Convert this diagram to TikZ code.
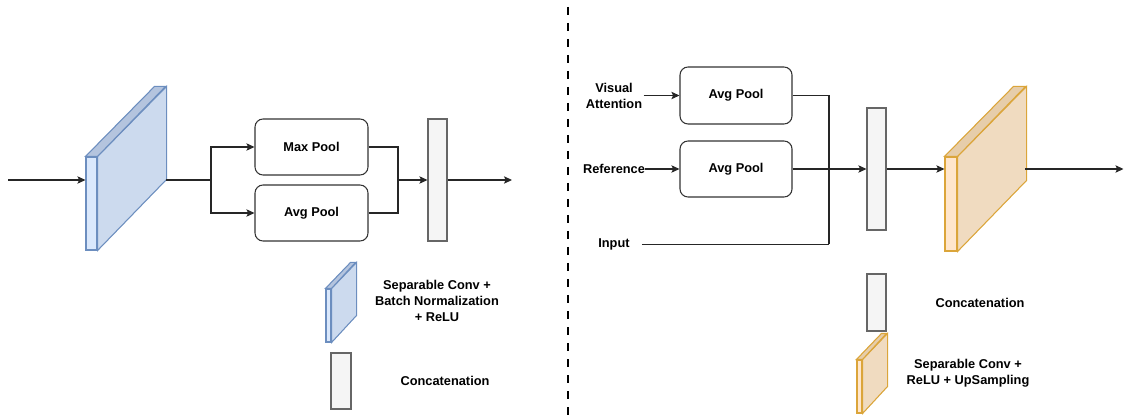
\documentclass[tikz,border=0pt]{standalone}
\usepackage{fontspec}
\setmainfont{Liberation Sans}
\usetikzlibrary{arrows.meta,calc}
\definecolor{bfront}{HTML}{DAE8FC}
\definecolor{bside}{HTML}{CCDAEE}
\definecolor{btop}{HTML}{B4C4DE}
\definecolor{bstroke}{HTML}{6C8EBF}
\definecolor{ofront}{HTML}{FFE6CC}
\definecolor{oside}{HTML}{F0DBC0}
\definecolor{otop}{HTML}{E6CDAA}
\definecolor{ostroke}{HTML}{DBA53A}
\definecolor{catfill}{HTML}{F5F5F5}
\definecolor{catstroke}{HTML}{666666}
\def\u{0.75pt}
\tikzset{
  lbl/.style={font=\fontsize{9.6}{12}\selectfont\bfseries, align=center, inner sep=1pt},
  poolbox/.style={draw=black!80, line width=0.8pt, rounded corners=6pt, fill=white, lbl},
  catbox/.style={draw=catstroke, fill=catfill, line width=0.8pt, inner sep=0pt},
  bluefront/.style={draw=bstroke, fill=bfront, line width=0.8pt, inner sep=0pt},
  orgfront/.style={draw=ostroke, fill=ofront, line width=0.8pt, inner sep=0pt},
  conn/.style={draw=black!85, line width=0.8pt},
  arr/.style={conn, -{Stealth[length=6pt,width=5.5pt,inset=1.2pt]}},
}
\begin{document}
\begin{tikzpicture}[x=0.75pt,y=-0.75pt]
\useasboundingbox (0,0) rectangle (1124,420);

% ---------- left part ----------
\node[bluefront, minimum width=11*\u, minimum height=93*\u] (blk) at (91.5,203.5) {};
\draw[draw=bstroke, fill=bside, line width=0.8pt] (blk.north east) -- ++(69,-70) -- ++(0,93) -- (blk.south east) -- cycle;
\draw[draw=bstroke, fill=btop, line width=0.8pt] (blk.north west) -- ++(69,-70) -- ++(11,0) -- (blk.north east) -- cycle;
\coordinate (inL) at (8,180);
\coordinate (bout) at (166,180);
\coordinate (split) at (211,180);
\node[poolbox, minimum width=113*\u, minimum height=56*\u] (mp) at (311.5,147) {Max Pool};
\node[poolbox, minimum width=113*\u, minimum height=56*\u] (ap) at (311.5,213) {Avg Pool};
\node[catbox, minimum width=19*\u, minimum height=122*\u] (catL) at (437.5,180) {};
\coordinate (join) at (398,180);
\coordinate (outL) at (512,180);

\draw[arr] (inL) -- (inL -| blk.west);
\draw[conn] (bout) -- (split);
\draw[arr] (split) |- (mp.west);
\draw[arr] (split) |- (ap.west);
\draw[conn] (mp.east) -| (join);
\draw[conn] (ap.east) -| (join);
\draw[arr] (join) -- (catL.west);
\draw[arr] (catL.east) -- (outL);

% legend left
\node[bluefront, minimum width=5*\u, minimum height=53*\u] (lgb) at (328.5,315.5) {};
\draw[draw=bstroke, fill=bside, line width=0.8pt] (lgb.north east) -- ++(25,-26) -- ++(0,53) -- (lgb.south east) -- cycle;
\draw[draw=bstroke, fill=btop, line width=0.8pt] (lgb.north west) -- ++(25,-26) -- ++(5,0) -- (lgb.north east) -- cycle;
\node[lbl] (lgbt) at (437,301) {Separable Conv +\\Batch Normalization\\+ ReLU};
\node[catbox, minimum width=20*\u, minimum height=56*\u] (lgc) at (341,381) {};
\node[lbl] (lgct) at (445,381) {Concatenation};

% ---------- separator ----------
\coordinate (sepT) at (568,0);
\coordinate (sepB) at (568,420);
\draw[line width=2pt, dash pattern=on 6pt off 6pt, dash phase=6.75pt] (sepT) -- (sepB);

% ---------- right part ----------
\node[lbl] (va) at (614,96) {Visual\\Attention};
\node[lbl] (ref) at (614,169) {Reference};
\node[lbl] (inp) at (614,244.5) {Input};
\node[poolbox, minimum width=112*\u, minimum height=57*\u] (r1) at (736,95.5) {Avg Pool};
\node[poolbox, minimum width=112*\u, minimum height=56*\u] (r2) at (736,169) {Avg Pool};
\coordinate (jn) at (829,244.5);
\node[catbox, minimum width=19*\u, minimum height=122*\u] (catR) at (876.5,169) {};
\node[orgfront, minimum width=12*\u, minimum height=94*\u] (ob) at (951,204) {};
\draw[draw=ostroke, fill=oside, line width=0.8pt] (ob.north east) -- ++(69,-70) -- ++(0,94) -- (ob.south east) -- cycle;
\draw[draw=ostroke, fill=otop, line width=0.8pt] (ob.north west) -- ++(69,-70) -- ++(12,0) -- (ob.north east) -- cycle;
\coordinate (oout) at (1025,169);
\coordinate (outR) at (1123.5,169);

\draw[arr] (va.east |- r1.west) -- (r1.west);
\draw[arr] (ref.east |- r2.west) ++(-2,0) -- (r2.west);
\draw[conn] (r1.east) -| (jn);
\draw[conn, shorten <=8pt] (inp.east) -- (jn);
\draw[arr] (r2.east) -- (catR.west);
\draw[arr] (catR.east) -- (catR.east -| ob.west);
\draw[arr] (oout) -- (outR);

% legend right
\node[catbox, minimum width=19*\u, minimum height=57*\u] (lgc2) at (876.5,302.5) {};
\node[lbl] (lgct2) at (980,303) {Concatenation};
\node[orgfront, minimum width=5*\u, minimum height=53*\u] (lgo) at (859.5,386.5) {};
\draw[draw=ostroke, fill=oside, line width=0.8pt] (lgo.north east) -- ++(25,-26) -- ++(0,53) -- (lgo.south east) -- cycle;
\draw[draw=ostroke, fill=otop, line width=0.8pt] (lgo.north west) -- ++(25,-26) -- ++(5,0) -- (lgo.north east) -- cycle;
\node[lbl] (lgot) at (968,373) {Separable Conv +\\ReLU + UpSampling};
\end{tikzpicture}
\end{document}
